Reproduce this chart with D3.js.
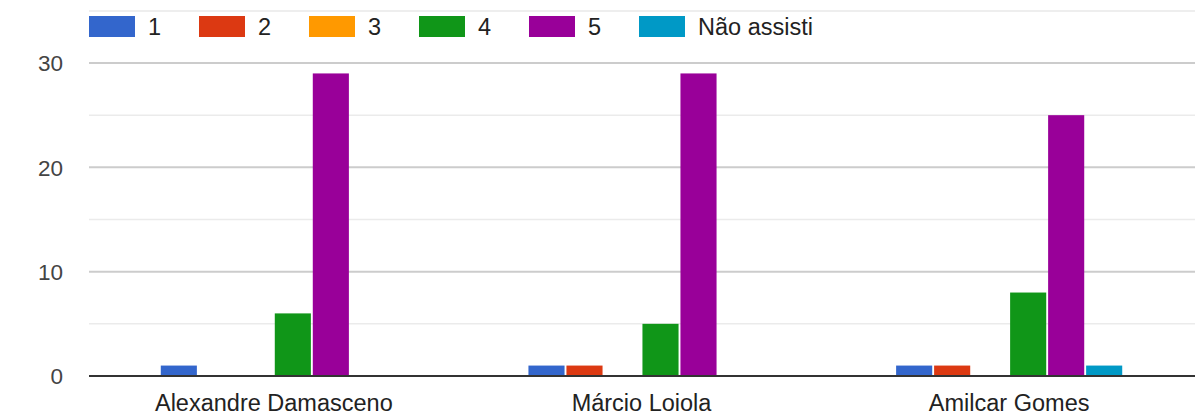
<!DOCTYPE html>
<html>
<head>
<meta charset="utf-8">
<script src="https://cdn.jsdelivr.net/npm/d3@7"></script>
<style>
  body { margin: 0; background: #fff; }
  text { font-family: Arial, "Liberation Sans", sans-serif; }
</style>
</head>
<body>
<div id="chart"></div>
<script>
// Data
let names = ['Alexandre Damasceno', 'Márcio Loiola', 'Amilcar Gomes'];
let ratings = ['1', '2', '3', '4', '5', 'Não assisti'];
let colors = ['#3366cc', '#dc3912', '#ff9900', '#109618', '#990099', '#0099c6'];
let counts1 = [1, 1, 1];
let counts2 = [0, 1, 1];
let counts3 = [0, 0, 0];
let counts4 = [6, 5, 8];
let counts5 = [29, 29, 25];
let countsNA = [0, 0, 1];
let yTicks = [0, 10, 20, 30];
let yMinor = [5, 15, 25];

let series = [counts1, counts2, counts3, counts4, counts5, countsNA];

let width = 1195;
let height = 420;

let svg = d3.select('#chart')
.append('svg')
.attr('width', width)
.attr('height', height);

// Scales
let x0 = d3.scaleBand()
.domain(names)
.range([90, 1193])
.paddingInner(0.385)
.paddingOuter(0.1925);

let x1 = d3.scaleBand()
.domain(ratings)
.range([0, x0.bandwidth()])
.paddingInner(0.05);

let y = d3.scaleLinear()
.domain([0, 30])
.range([376, 63]);

// top border line
svg.append('line')
.attr('x1', 89).attr('x2', width)
.attr('y1', 11).attr('y2', 11)
.attr('stroke', '#eeeeee')
.attr('stroke-width', 2);

// Gridlines: minor first, then major
svg.append('g')
.selectAll('line')
.data(yMinor)
.enter()
.append('line')
.attr('x1', 89).attr('x2', width)
.attr('y1', d => y(d)).attr('y2', d => y(d))
.attr('stroke', '#ebebeb')
.attr('stroke-width', 1.5);

svg.append('g')
.selectAll('line')
.data(yTicks.filter(d => d != 0))
.enter()
.append('line')
.attr('x1', 89).attr('x2', width)
.attr('y1', d => y(d)).attr('y2', d => y(d))
.attr('stroke', '#cccccc')
.attr('stroke-width', 2);

// Y axis labels
let yAxis = d3.axisLeft(y).tickValues(yTicks).tickSize(0).tickPadding(0);
let ya = svg.append('g')
.attr('transform', 'translate(63,0)')
.call(yAxis);
ya.select('.domain').remove();
ya.selectAll('text')
.attr('fill', '#444')
.style('font-size', '22.5px')
.attr('dy', '0.35em');

// Bars
let groups = svg.append('g')
.selectAll('g')
.data(names)
.enter()
.append('g')
.attr('transform', d => 'translate(' + x0(d) + ',0)');

groups.selectAll('rect')
.data(function(d, i){
    return ratings.map(function(r, j){ return {rating: r, value: series[j][i], color: colors[j]}; });
})
.enter()
.append('rect')
.attr('x', d => x1(d.rating))
.attr('width', x1.bandwidth())
.attr('y', d => y(d.value))
.attr('height', d => y(0) - y(d.value))
.attr('fill', d => d.color);

// Baseline
svg.append('line')
.attr('x1', 89).attr('x2', width)
.attr('y1', y(0)).attr('y2', y(0))
.attr('stroke', '#333333')
.attr('stroke-width', 2);

// X axis labels
let xAxis = d3.axisBottom(x0).tickSize(0).tickPadding(0);
let xa = svg.append('g')
.attr('transform', 'translate(0,403)')
.call(xAxis);
xa.select('.domain').remove();
xa.selectAll('text')
.attr('fill', '#222')
.attr('dy', '0.35em')
.style('font-size', '23.5px');

// Legend
let legend = svg.append('g')
.selectAll('g')
.data(ratings)
.enter()
.append('g')
.attr('transform', (d, i) => 'translate(' + (89 + i * 110) + ',16)');

legend.append('rect')
.attr('width', 46)
.attr('height', 21)
.attr('fill', (d, i) => colors[i]);

legend.append('text')
.attr('x', 59)
.attr('y', 10.5)
.attr('dy', '0.35em')
.attr('fill', '#222')
.style('font-size', '23.5px')
.text(d => d);
</script>
</body>
</html>
